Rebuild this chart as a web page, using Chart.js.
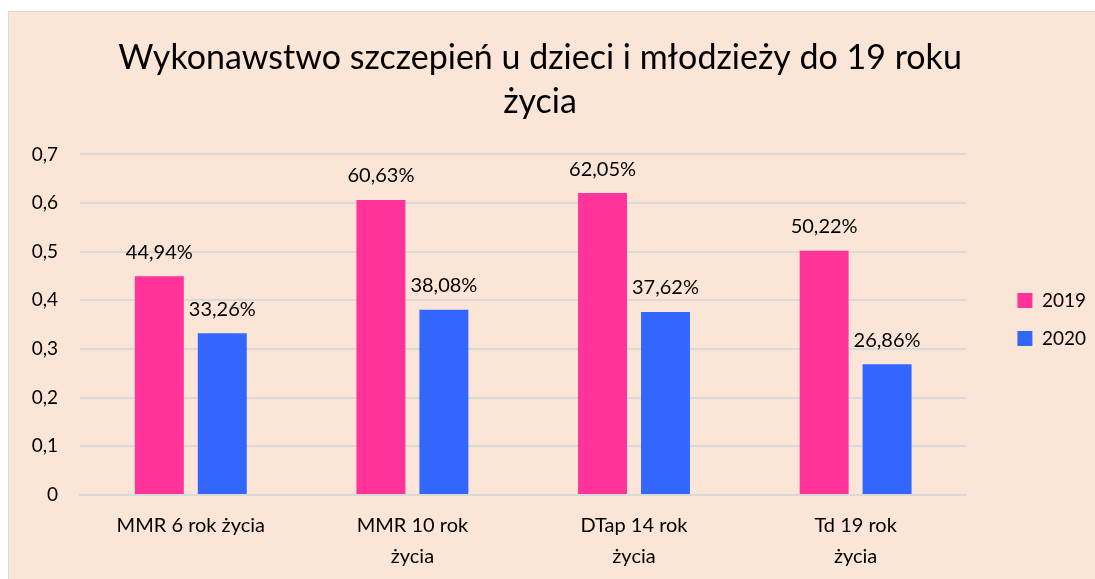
<!DOCTYPE html>
<html>
<head>
<meta charset="utf-8">
<script src="https://cdn.jsdelivr.net/npm/chart.js@4.4.0/dist/chart.umd.min.js"></script>
<style>
  body { margin: 0; background: #fff; overflow: hidden; }
  #box { position: absolute; left: 8px; top: 11px; width: 1110px; height: 580px;
         background: #FBE5D6; border: 1px solid #D9D9D9; }
  #wrap { position: absolute; left: -25px; top: 0; width: 1112px; height: 567px; }
</style>
</head>
<body>
<div id="box"><div id="wrap"><canvas id="c"></canvas></div></div>
<script>
var categories = [['MMR 6 rok życia'], ['MMR 10 rok', 'życia'], ['DTap 14 rok', 'życia'], ['Td 19 rok', 'życia']];
var values2019 = [0.4494, 0.6063, 0.6205, 0.5022];
var values2020 = [0.3326, 0.3808, 0.3762, 0.2686];
var yTicks = [0, 0.1, 0.2, 0.3, 0.4, 0.5, 0.6, 0.7];

var font = 'Lato, "Open Sans", sans-serif';

function pct(v) {
  return (v * 100).toFixed(2).replace('.', ',') + '%';
}

// labels above bars
var barLabels = {
  id: 'barLabels',
  afterDatasetsDraw: function(chart) {
    var ctx = chart.ctx;
    ctx.save();
    ctx.font = '20px ' + font;
    ctx.fillStyle = '#000';
    ctx.textAlign = 'center';
    ctx.textBaseline = 'bottom';
    chart.data.datasets.forEach(function(ds, i) {
      chart.getDatasetMeta(i).data.forEach(function(bar, j) {
        ctx.fillText(pct(ds.data[j]), bar.x, bar.y - 14);
      });
    });
    ctx.restore();
  }
};

new Chart(document.getElementById('c'), {
  type: 'bar',
  data: {
    labels: categories,
    datasets: [
      { label: '2019', data: values2019, backgroundColor: '#FF3399' },
      { label: '2020', data: values2020, backgroundColor: '#3366FF' }
    ]
  },
  options: {
    responsive: true,
    maintainAspectRatio: false,
    animation: false,
    categoryPercentage: 0.568,
    barPercentage: 0.778,
    layout: { padding: { left: 0, right: 0, top: 24, bottom: 0 } },
    plugins: {
      title: {
        display: true,
        text: ['Wykonawstwo szczepień u dzieci i młodzieży do 19 roku', 'życia'],
        color: '#000',
        font: { family: font, size: 34, weight: 'normal', lineHeight: 1.3 },
        padding: { top: 0, bottom: 30 }
      },
      legend: {
        position: 'right',
        title: { display: true, text: ' ', font: { size: 10, lineHeight: 1 }, padding: { top: 0, bottom: 14 } },
        labels: {
          color: '#000',
          font: { family: font, size: 19 },
          boxWidth: 15,
          boxHeight: 15,
          padding: 19
        }
      },
      tooltip: { enabled: false }
    },
    scales: {
      x: {
        grid: { display: false },
        border: { color: '#D9D9D9', width: 2 },
        ticks: { color: '#000', font: { family: font, size: 20, lineHeight: 1.55 }, padding: 7, maxRotation: 0 }
      },
      y: {
        min: 0,
        max: 0.7,
        afterBuildTicks: function(axis) {
          axis.ticks = yTicks.map(function(v) { return { value: v }; });
        },
        afterFit: function(axis) { axis.width = 96; },
        grid: { color: '#D9D9D9', lineWidth: 2, drawTicks: false },
        border: { display: false },
        ticks: {
          color: '#000',
          font: { family: font, size: 19 },
          padding: 22,
          callback: function(v) { return String(Math.round(v * 10) / 10).replace('.', ','); }
        }
      },
      // empty space between plot and legend
      gap: {
        position: 'right',
        display: true,
        grid: { display: false },
        border: { display: false },
        ticks: { display: false },
        afterFit: function(axis) { axis.width = 32; }
      }
    }
  },
  plugins: [barLabels]
});
</script>
</body>
</html>
